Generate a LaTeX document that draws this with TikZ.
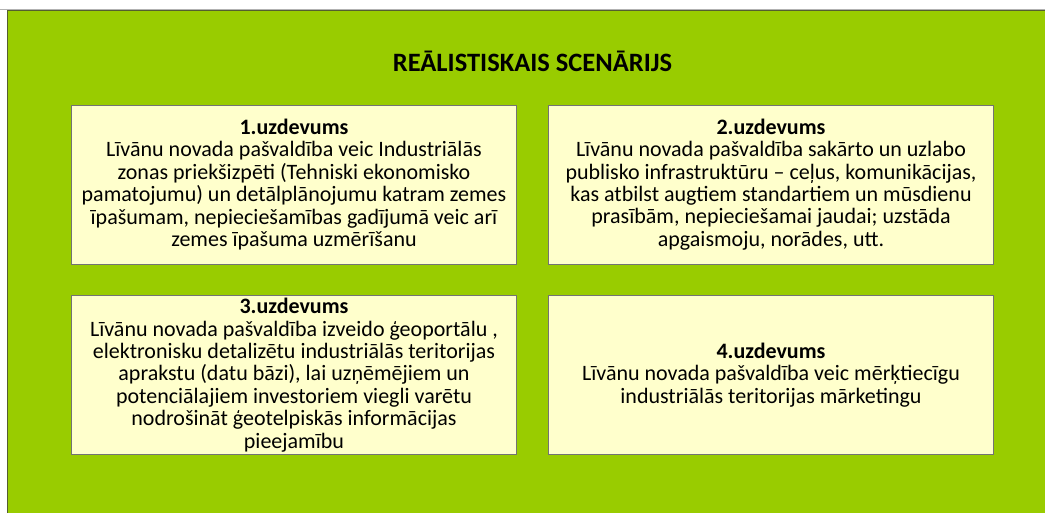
\documentclass[tikz,border=0pt]{standalone}
\usepackage{fontspec}
\setmainfont{Carlito}
\definecolor{bggreen}{HTML}{99CC00}
\definecolor{boxfill}{HTML}{FFFFCC}
\definecolor{edgeol}{HTML}{545E30}
\begin{document}
\begin{tikzpicture}[x=1pt,y=-1pt,
  taskbox/.style={draw=black!55, line width=0.9pt, fill=boxfill, minimum width=445pt, minimum height=159pt, inner sep=0pt, align=center, font=\fontsize{22}{22.4}\selectfont},
  titletext/.style={font=\fontsize{26.5}{28}\selectfont\bfseries}]
\useasboundingbox (0,0) rectangle (1045,512);
\fill[white] (0,0) rectangle (1045,512);
\draw[black!30, line width=0.8pt] (0,9) -- (1045,9);
\fill[bggreen] (7,10) rectangle (1046,513);
\draw[edgeol, line width=1pt] (7.5,513) -- (7.5,10.5) -- (1046,10.5);
\node[titletext] (title) at (532.5,61) {REĀLISTISKAIS SCENĀRIJS};
\node[taskbox] (t1) at (294,184.5) {\textbf{1.uzdevums}\\Līvānu novada pašvaldība veic Industriālās\\zonas priekšizpēti (Tehniski ekonomisko\\pamatojumu) un detālplānojumu katram zemes\\īpašumam, nepieciešamības gadījumā veic arī\\zemes īpašuma uzmērīšanu};
\node[taskbox] (t2) at (771,184.5) {\textbf{2.uzdevums}\\Līvānu novada pašvaldība sakārto un uzlabo\\publisko infrastruktūru – ceļus, komunikācijas,\\kas atbilst augtiem standartiem un mūsdienu\\prasībām, nepieciešamai jaudai; uzstāda\\apgaismoju, norādes, utt.};
\node[taskbox] (t3) at (294,375) {\textbf{3.uzdevums}\\Līvānu novada pašvaldība izveido ģeoportālu ,\\elektronisku detalizētu industriālās teritorijas\\aprakstu (datu bāzi), lai uzņēmējiem un\\potenciālajiem investoriem viegli varētu\\nodrošināt ģeotelpiskās informācijas\\pieejamību};
\node[taskbox] (t4) at (771,375) {\textbf{4.uzdevums}\\Līvānu novada pašvaldība veic mērķtiecīgu\\industriālās teritorijas mārketingu};
\end{tikzpicture}
\end{document}
